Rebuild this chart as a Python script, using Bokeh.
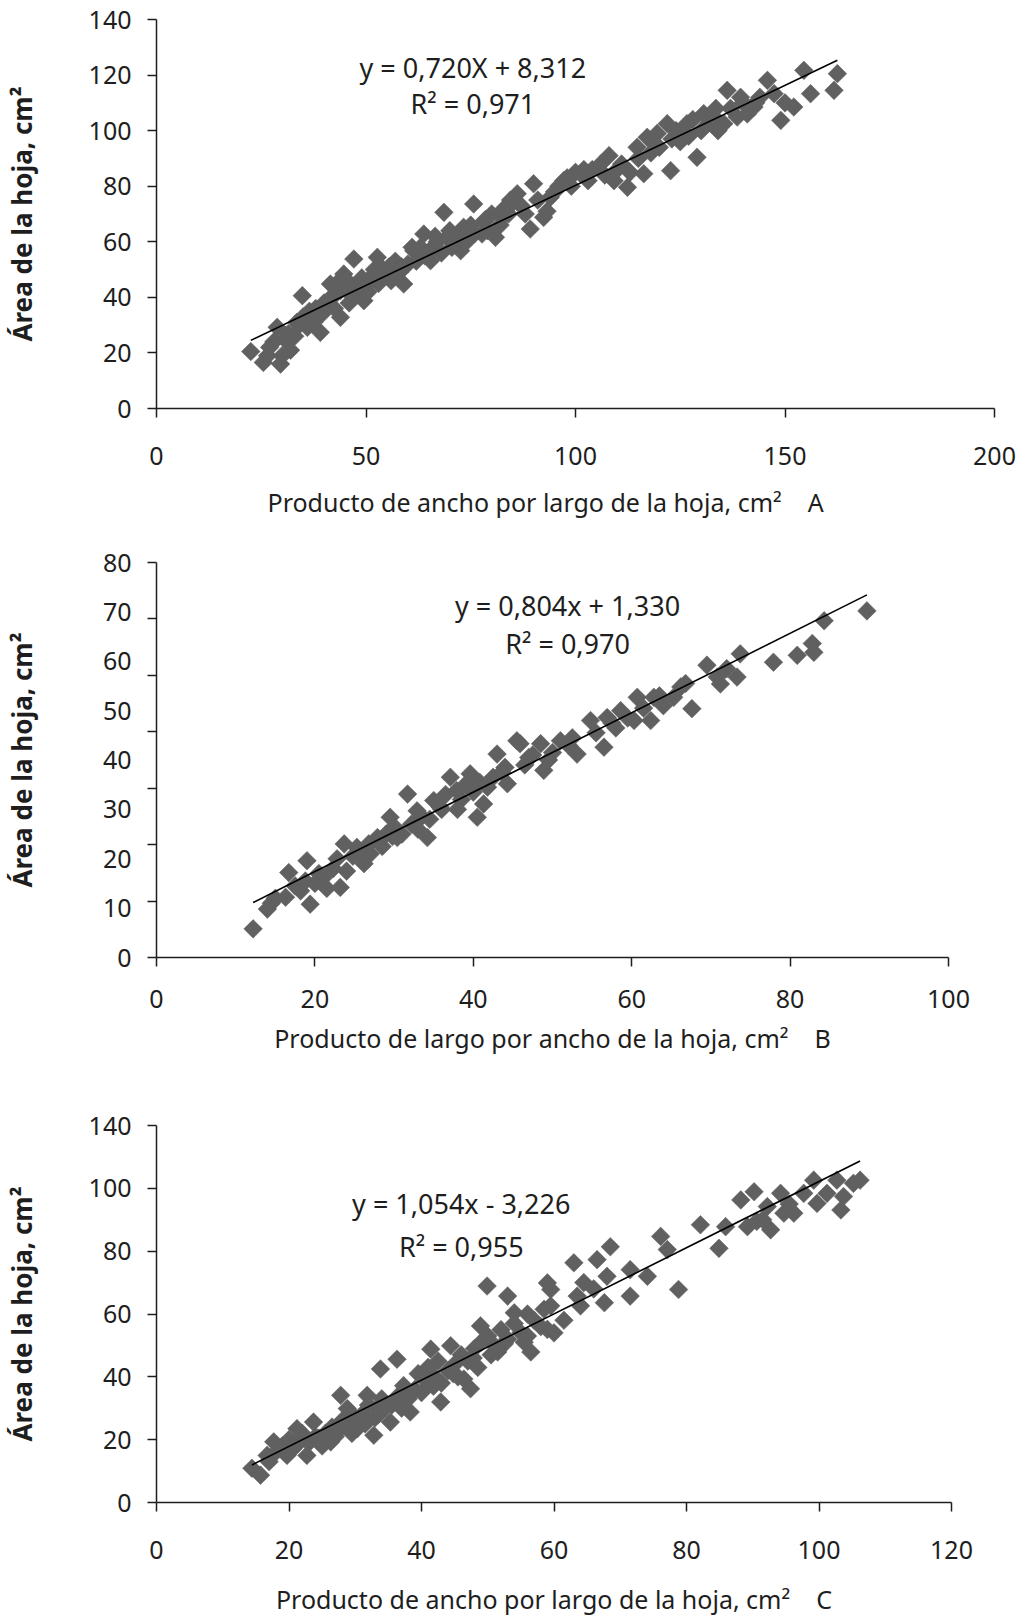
from bokeh.plotting import figure
from bokeh.layouts import column
from bokeh.models import Range1d, FixedTicker, Label, Title
from bokeh.embed import file_html
from bokeh.resources import INLINE
import math

FONT = "Noto Sans"
MARK = "#606060"
INK = "#1e1e1e"

# ---------------- Panel A ----------------
a_x = [22.5, 25.5, 26.5, 27, 28, 28.8, 29.6, 30, 30.5, 31.2, 31.5, 32, 33, 34, 34.8, 35, 36, 36.5, 37.5, 38, 39.1, 39.5, 40,
       41.5, 42, 42.5, 43, 43.9, 43.9, 44.7, 45.5, 46, 47.1, 47.5, 48, 49, 49.5, 50, 51, 52, 52.7, 53, 54, 55.1, 55.5, 56, 57, 58, 59, 60,
       61.4, 62, 63, 63.8, 64, 65.4, 66, 67, 68, 68.6, 69.4, 70, 71, 72, 72.6, 73.3, 74, 75, 75.7, 76, 77.7, 78, 79, 80, 80.9,
       82, 82.5, 83, 84, 85, 86.1, 87, 88, 89.2, 90, 91, 92.4, 93.2, 94, 96, 97.2, 98, 99, 100, 101.2,
       103, 104, 106, 107, 109.2, 110, 111, 112.4, 113, 114.7, 115, 116.3, 117.1, 118, 119, 120, 121.9, 122.7, 123, 124, 125, 126.6, 127, 129, 130,
       130.6, 132, 133, 134, 135.4, 136.2, 137, 138.6, 139.4, 140, 141, 142.6, 144, 145.8, 147.4, 149, 150, 152.1, 154.5, 156.1, 161.7, 162.5,
       33.5, 37, 41, 45, 50.5, 53.5, 58.5, 61, 66.5, 70.5, 78.5, 84.5, 95, 102, 108, 119.5, 128, 133.5, 143]
a_y = [20.5, 16.6, 19, 22, 24, 29.2, 16, 19, 25, 24.4, 27, 21, 26, 30, 40.6, 33, 29.2, 35, 31, 36, 27.4, 34, 38,
       44.8, 40, 36, 45, 42.4, 32.8, 48.4, 46, 38, 53.8, 44, 41, 47, 38.8, 44, 47, 50, 54.4, 45, 48, 48.4, 51, 46, 53, 49, 44.8, 52,
       56.8, 53, 58, 62.8, 55, 53.2, 58, 60, 56, 70.6, 61.6, 64, 59, 62, 56.8, 65.2, 60, 66, 73.6, 63, 62.8, 67, 64, 70, 61.6,
       66, 68.8, 72, 70, 74, 77.3, 73, 70, 64.6, 80.9, 75, 68.8, 71, 76, 80, 82, 83, 80, 85, 84.5,
       82, 86, 88, 84, 82, 86, 88, 79.6, 85, 94, 90, 84.5, 97.6, 92, 95, 94, 102.5, 85.6, 97, 100, 96, 102.5, 98, 90.4, 100,
       106.1, 103, 105, 100, 102.5, 114.5, 108, 104.9, 112, 110, 106, 108.5, 112, 118.1, 113.3, 103.7, 110, 108.5, 121.7, 113.3, 114.5, 120.5,
       31, 33, 39, 43, 42, 51, 51, 58, 62, 58, 68, 75, 78, 86, 91, 99, 104, 108, 110]
a_fit = (0.720, 8.312)
a_text = ["y = 0,720X + 8,312", "R\u00b2 = 0,971"]

# ---------------- Panel B ----------------
b_x = [12.2, 14.0, 14.5, 15, 16.3, 16.7, 17.5, 18.2, 18.8, 19.0, 19.4, 20.5, 21.1, 21.5, 22.3, 23.2, 23.7, 24, 24.8, 25.3, 25.8,
       26.2, 27, 27.9, 28.5, 29, 29.5, 30, 30.4, 31, 31.7, 32.2, 32.9, 33.5, 34.2, 34.5, 35.0, 36, 36.5, 37.1, 37.9, 38.5, 39,
       39.6, 40, 40.5, 41.3, 41.8, 42.5, 43.0, 44, 44.3, 45.5, 45.9, 46.5, 47.5, 48.5, 48.9, 50, 51, 52, 53.1, 54.8, 55.5, 56.5,
       56.9, 58, 58.6, 59.5, 60.3, 60.7, 61.5, 62.4, 62.8, 64, 65.3, 66.2, 66.8, 67.6, 69.5, 70.8, 71.2, 72, 73.3, 73.7, 77.9,
       80.9, 82.8, 83, 84.3, 89.7,
       20, 22.8, 26.8, 29.8, 33, 35.8, 38, 40.8, 43.6, 47, 49.5, 52.5, 57.5, 63.5]
b_y = [5.8, 9.8, 11, 12, 12.2, 17.2, 14.5, 13.5, 15.5, 19.6, 10.8, 17, 16.2, 14, 18, 14.2, 23.0, 17.5, 20.5, 22.3, 21,
       19.0, 21, 24.3, 22.5, 25, 28.4, 26.5, 24.3, 25, 33.1, 27, 29.7, 28.5, 24.3, 28, 31.8, 30, 33, 36.5, 33.8, 32, 35,
       37.2, 33.5, 28.4, 31.1, 34.5, 36.5, 41.2, 38.5, 35.2, 43.9, 43.3, 39, 41, 43.3, 37.9, 41.5, 43.9, 43, 41.2, 48.0, 45.5, 42.6,
       48.6, 46.5, 50.0, 48.5, 48.0, 52.7, 50.5, 48.0, 52.7, 51, 52.7, 54.8, 55.5, 50.4, 59.2, 56.8, 55.4, 58.5, 56.8, 61.5, 59.8,
       61.2, 63.6, 61.8, 68.2, 70.2,
       15, 20, 23, 24.5, 26, 30.5, 30, 35.5, 37.5, 40.5, 40, 44.5, 47.5, 53]
b_fit = (0.804, 1.330)
b_text = ["y = 0,804x + 1,330", "R\u00b2 = 0,970"]

# ---------------- Panel C ----------------
c_x = [14.4, 15.7, 16.7, 17.7, 18, 19, 19.7, 20, 20.5, 21.2, 21.5, 22, 22.7, 23, 23.7, 24, 25, 25.5, 26.3, 26.5, 27, 27.8,
       28, 28.8, 29, 29.5, 30, 30.3, 31, 31.5, 31.8, 32, 32.8, 33, 33.3, 33.8, 34, 34.5, 35.3, 35.5, 36.3, 36.5, 37, 37.3, 38,
       38.3, 39, 39.5, 40, 40.4, 41, 41.4, 42, 42.5, 42.9, 43, 44, 44.4, 45, 45.5, 46, 46.4, 47, 47.4, 48, 48.5, 48.9, 49,
       49.9, 50, 51, 51.5, 52, 53, 53, 54, 54, 55, 55.5, 56, 56.5, 57, 58, 58.5, 59, 59, 59.5, 59.5, 60, 63, 63.5, 64, 64.5,
       66.5, 67.6, 68, 68.5, 71.5, 71.5, 74.1, 76.1, 77.1, 78.8, 82.1, 84.9, 85.9, 88.2, 89.2, 90.2, 90.6, 92.2, 92.7, 94.2,
       94.7, 96.2, 97.7, 99.2, 99.7, 101.2, 102.7, 103.3, 103.7, 105.2, 106.2,
       17, 21, 24.5, 27.5, 30.8, 33.5, 36, 38.8, 41.8, 44.8, 47.8, 50.5, 52.5, 56, 61.5, 66, 91.5, 95.5]
c_y = [10.9, 8.7, 15.0, 19.3, 16, 18, 15.0, 20, 17, 23.5, 20, 22, 15.0, 19, 25.6, 21, 18, 22, 19.3, 24, 21, 34.1,
       26, 29.9, 25, 22, 27, 23.5, 28, 25, 34.1, 31, 21.4, 27, 29.9, 42.5, 33, 30, 25.6, 31, 45.6, 34, 30, 37.2, 33,
       28.8, 36, 41, 35, 39.3, 43, 48.8, 40, 45, 32.0, 38, 42, 49.9, 44, 40, 47, 39.3, 45, 36.2, 49, 43, 56.2, 51,
       68.9, 53, 50, 47.9, 55, 52, 65.7, 57, 60.4, 54, 51.0, 60, 47.9, 58, 56, 61.5, 55.1, 69.9, 67.8, 62.6, 54, 76.3, 65.7, 62.6, 70,
       77.3, 63.6, 72, 81.4, 74.1, 65.7, 72, 84.7, 80.5, 67.8, 88.4, 80.9, 87.8, 96.3, 87.8, 98.9, 89.5, 94.2, 86.8, 98.4,
       92.1, 92.1, 98.4, 102.6, 95.2, 98.4, 102.6, 93.1, 97.4, 101.6, 102.6,
       13, 18, 20.5, 23, 27, 28, 32, 35.5, 37, 41, 46, 47, 50.5, 53, 58, 68, 90, 95]
c_fit = (1.054, -3.226)
c_text = ["y = 1,054x - 3,226", "R\u00b2 = 0,955"]

NB = "\u00a0"
Y_TITLE = "\u00c1rea de la hoja, cm\u00b2"


def panel(xs, ys, fit, eq, eq_pos, x_title, xmax, xticks, ymax, yticks,
          height, border, lbl_off, title_off, ytitle_off, xtitle_shift=None,
          y_minor=None, y_overrides=None):
    top, bottom, right = border
    p = figure(width=1027, height=height, output_backend="svg", toolbar_location=None,
               x_range=Range1d(0, xmax), y_range=Range1d(0, ymax),
               min_border_left=156, min_border_right=right,
               min_border_top=top, min_border_bottom=bottom,
               frame_align=False)
    p.outline_line_color = None
    p.grid.visible = False
    p.background_fill_color = "white"
    p.border_fill_color = "white"

    # markers and fitted line
    p.scatter(xs, ys, marker="square", size=13.2, angle=math.pi / 4,
              fill_color=MARK, line_color=MARK, line_width=0.5)
    x0, x1 = min(xs), max(xs)
    slope, icpt = fit
    p.line([x0, x1], [slope * x0 + icpt, slope * x1 + icpt], line_color="black", line_width=1.6)

    for txt, (tx, ty) in zip(eq, eq_pos):
        p.add_layout(Label(x=tx, y=ty, text=txt, text_align="center", text_baseline="middle",
                           text_font=FONT, text_font_size="27px", text_color=INK))

    # axes
    xa = p.xaxis[0]
    xa.ticker = FixedTicker(ticks=xticks)
    ya = p.yaxis[0]
    if y_minor is not None:
        ya.ticker = FixedTicker(ticks=yticks, minor_ticks=y_minor)
        ya.major_tick_out = 0
        ya.major_tick_in = 0
        ya.minor_tick_out = 9
        ya.minor_tick_in = 0
        ya.minor_tick_line_color = INK
        ya.minor_tick_line_width = 1.5
    else:
        ya.ticker = FixedTicker(ticks=yticks)
        ya.major_tick_out = 9
        ya.major_tick_in = 0
        ya.minor_tick_line_color = None
    if y_overrides:
        ya.major_label_overrides = y_overrides
    xa.major_tick_out = 9
    xa.major_tick_in = 0
    xa.minor_tick_line_color = None
    for ax in (xa, ya):
        ax.axis_line_color = INK
        ax.axis_line_width = 1.5
        ax.major_tick_line_color = INK
        ax.major_tick_line_width = 1.5
        ax.major_label_text_font = FONT
        ax.major_label_text_font_size = "25px"
        ax.major_label_text_color = INK
    xa.major_label_standoff = lbl_off

    # x-axis title
    if xtitle_shift is None:
        xa.axis_label = x_title
        xa.axis_label_text_font = FONT
        xa.axis_label_text_font_size = "25px"
        xa.axis_label_text_font_style = "normal"
        xa.axis_label_text_color = INK
        xa.axis_label_standoff = title_off
    else:
        p.add_layout(Title(text=x_title, align="left", offset=xtitle_shift,
                           vertical_align="top", standoff=title_off,
                           text_font=FONT, text_font_size="25px", text_font_style="normal",
                           text_color=INK), "below")

    # y-axis title
    ya.major_label_standoff = 16
    ya.axis_label = Y_TITLE
    ya.axis_label_text_font = FONT
    ya.axis_label_text_font_size = "26px"
    ya.axis_label_text_font_style = "bold"
    ya.axis_label_text_color = INK
    ya.axis_label_standoff = ytitle_off
    return p


pa = panel(a_x, a_y, a_fit, a_text, [(75.5, 122.8), (75.5, 109.8)],
           "Producto de ancho por largo de la hoja, cm\u00b2" + NB * 4 + "A",
           200, [0, 50, 100, 150, 200], 140, list(range(0, 141, 20)),
           545, (19, 137, 33), 29, 34, 46, xtitle_shift=111)

pb = panel(b_x, b_y, b_fit, b_text, [(51.9, 71.3), (51.9, 63.6)],
           "Producto de largo por ancho de la hoja, cm\u00b2" + NB * 4 + "B",
           100, [0, 20, 40, 60, 80, 100], 80, list(range(0, 81, 10)),
           525, (17, 113, 79), 23, 10, 60,
           y_minor=[80 * k / 7 for k in range(8)])

pc = panel(c_x, c_y, c_fit, c_text, [(46.0, 95.3), (46.0, 81.5)],
           "Producto de ancho por largo de la hoja, cm\u00b2" + NB * 4 + "C",
           120, [0, 20, 40, 60, 80, 100, 120], 120, list(range(0, 121, 20)),
           548, (55, 114, 76), 29, 20, 46,
           y_overrides={120: "140"})

layout = column(pa, pb, pc, spacing=0)
open("out.html", "w").write(file_html(layout, INLINE))
